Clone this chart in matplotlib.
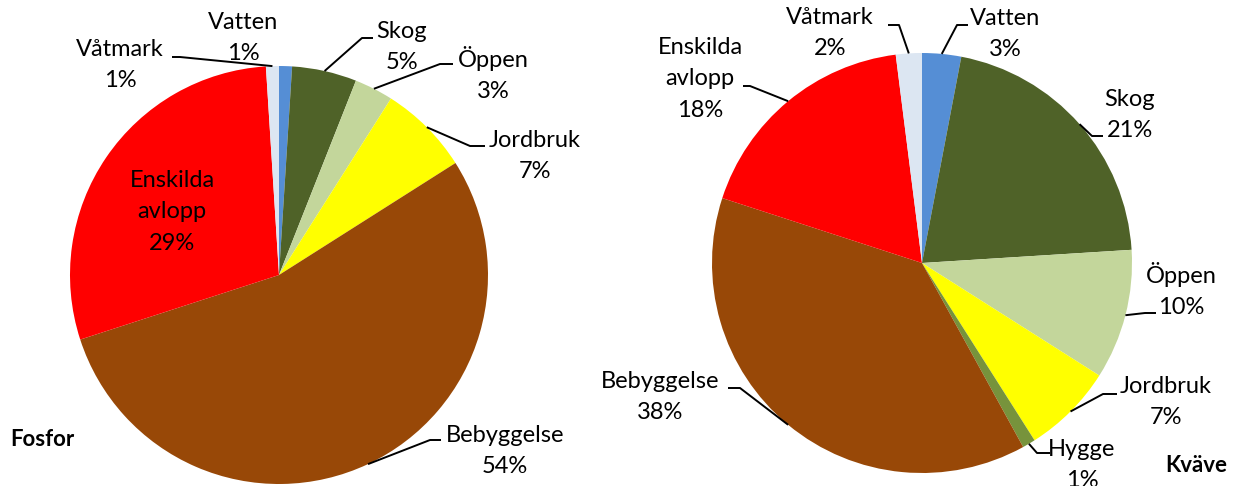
import numpy as np
import matplotlib.pyplot as plt

plt.rcParams['font.family'] = ['Lato', 'DejaVu Sans']

W, H = 1237, 486

# Fosfor (left) - clockwise from 12 o'clock
fos_labels = ["Vatten", "Skog", "Öppen", "Jordbruk", "Bebyggelse", "Enskilda\navlopp", "Våtmark"]
fos_values = [1, 5, 3, 7, 54, 29, 1]
fos_colors = ["#558ED5", "#4F6228", "#C3D69B", "#FFFF00", "#984807", "#FF0000", "#DCE6F2"]

# Kväve (right)
kv_labels = ["Vatten", "Skog", "Öppen", "Jordbruk", "Hygge", "Bebyggelse", "Enskilda\navlopp", "Våtmark"]
kv_values = [3, 21, 10, 7, 1, 38, 18, 2]
kv_colors = ["#558ED5", "#4F6228", "#C3D69B", "#FFFF00", "#77933C", "#984807", "#FF0000", "#DCE6F2"]

fig = plt.figure(figsize=(W / 100, H / 100), dpi=100)
ax = fig.add_axes([0, 0, 1, 1])


def Y(y):
    # image row -> data y
    return H - y


def draw_pie(values, colors, center, radius, labels, layout):
    ax.pie(values, colors=colors, startangle=90, counterclock=False,
           center=center, radius=radius, frame=True,
           wedgeprops=dict(linewidth=0))
    total = sum(values)
    cum = 0
    for i, v in enumerate(values):
        mid = np.deg2rad(90 - 360 * (cum + v / 2) / total)
        cum += v
        spec = layout.get(i)
        if spec is None:
            continue
        tx, ty, elbow, stub = spec
        pct = f"{round(100 * v / total)}%"
        ax.text(tx, Y(ty), f"{labels[i]}\n{pct}", ha='center', va='center',
                fontsize=17, linespacing=1.62, color='black')
        if elbow is not None:
            ex = center[0] + radius * np.cos(mid)
            ey = center[1] + radius * np.sin(mid)
            xs = [ex, elbow[0]]
            ys = [ey, Y(elbow[1])]
            if stub is not None:
                xs.append(stub)
                ys.append(Y(elbow[1]))
            ax.plot(xs, ys, color='black', lw=1.4, solid_capstyle='butt')


# text center (image coords), elbow point (image coords), stub end x
fos_layout = {
    0: (243, 38, None, None),
    1: (402, 47, (362, 38), 373),
    2: (493, 74, (440, 64), 453),
    3: (535, 156, (470, 146), 485),
    4: (505, 451, (430, 440), 441),
    5: (172, 212, None, None),
    6: (120, 65, (180, 57), 172),
}
kv_layout = {
    0: (1005, 34, (957, 25), 968),
    1: (1130, 115, (1092, 136), 1103),
    2: (1181, 290, (1145, 313), 1156),
    3: (1166, 402, (1103, 394), 1117),
    4: (1082, 465, (1037, 453), 1050),
    5: (660, 397, (740, 388), 728),
    6: (700, 79, (750, 86), 743),
    7: (830, 33, (899, 25), 888),
}

draw_pie(fos_values, fos_colors, (279, Y(275)), 209, fos_labels, fos_layout)
draw_pie(kv_values, kv_colors, (922, Y(263)), 210, kv_labels, kv_layout)

ax.set_xlim(0, W)
ax.set_ylim(0, H)
ax.set_aspect('equal')
ax.axis('off')

ax.text(10, Y(440), "Fosfor", fontsize=16, fontweight='bold', ha='left', va='center')
ax.text(1165, Y(466), "Kväve", fontsize=16, fontweight='bold', ha='left', va='center')

fig.savefig("out.png", dpi=100)
